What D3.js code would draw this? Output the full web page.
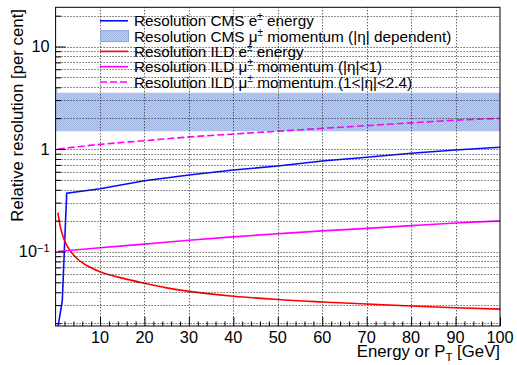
<html>
<head>
<script src="https://d3js.org/d3.v7.min.js"></script>
<style>
  body { margin: 0; background: #fff; }
  text { font-family: "Liberation Sans", Arial, Helvetica, sans-serif; fill: #000; }
</style>
</head>
<body>
<script>
// ---- data ----
// CMS e+- energy resolution
var cmsEleX = [0.5, 1.5, 2.5, 10, 20, 30, 40, 50, 60, 70, 80, 90, 100];
var cmsEleY = [0.018, 0.033, 0.37, 0.41, 0.49, 0.557, 0.624, 0.682, 0.764, 0.83, 0.908, 0.978, 1.04];

// CMS mu+- momentum band (|eta| dependent)
var cmsMuX    = [0, 0.4, 100];
var cmsMuLow  = [1.49, 1.49, 1.49];
var cmsMuHigh = [4.0, 3.54, 3.54];

// ILD e+- energy resolution
var ildEleX = [0.5, 1, 1.5, 2, 3, 4, 5, 7, 10, 15, 20, 25, 30, 40, 50, 60, 70, 80, 90, 100];
var ildEleY = [0.24, 0.18, 0.148, 0.128, 0.106, 0.093, 0.084, 0.073, 0.0635, 0.055, 0.049,
               0.0442, 0.0408, 0.0366, 0.034, 0.0322, 0.0307, 0.0294, 0.0283, 0.0274];

// ILD mu+- momentum |eta|<1
var ildMuCX = [0.5, 10, 20, 30, 40, 50, 60, 70, 80, 90, 100];
var ildMuCY = [0.1, 0.109, 0.118, 0.129, 0.139, 0.149, 0.159, 0.168, 0.179, 0.19, 0.199];

// ILD mu+- momentum 1<|eta|<2.4
var ildMuFX = [0.5, 10, 20, 30, 40, 50, 60, 70, 80, 90, 100];
var ildMuFY = [1.0, 1.11, 1.205, 1.31, 1.4, 1.49, 1.59, 1.69, 1.8, 1.91, 1.99];

var xTickLabels = [10, 20, 30, 40, 50, 60, 70, 80, 90, 100];
var yTickLabels = [0.1, 1, 10];

var legendLabels = [
  ["Resolution CMS e", "\u00b1", " energy"],
  ["Resolution CMS \u03bc", "\u00b1", " momentum (|\u03b7| dependent)"],
  ["Resolution ILD e", "\u00b1", " energy"],
  ["Resolution ILD \u03bc", "\u00b1", " momentum (|\u03b7|<1)"],
  ["Resolution ILD \u03bc", "\u00b1", " momentum (1<|\u03b7|<2.4)"]
];

// ---- layout ----
var width = 517, height = 365;
var padL = 55.6, padR = 500, padT = 7.3, padB = 326;

var svg = d3.select("body").append("svg")
  .attr("width", width)
  .attr("height", height);

var defs = svg.append("defs");
defs.append("clipPath").attr("id", "plotclip")
  .append("rect")
  .attr("x", padL).attr("y", padT)
  .attr("width", padR - padL).attr("height", padB - padT);

var pat = defs.append("pattern")
  .attr("id", "hatch")
  .attr("patternUnits", "userSpaceOnUse")
  .attr("width", 2).attr("height", 2);
pat.append("rect").attr("width", 2).attr("height", 2).attr("fill", "#bccbea");
pat.append("rect").attr("width", 1).attr("height", 1).attr("fill", "#a2b7e2");
pat.append("rect").attr("x", 1).attr("y", 1).attr("width", 1).attr("height", 1).attr("fill", "#a2b7e2");

var x = d3.scaleLinear().domain([0, 100]).range([padL, padR]);
var y = d3.scaleLog().domain([0.01876, 24.13]).range([padB, padT]);

function zip(xs, ys) {
  return xs.map(function (v, i) { return [v, ys[i]]; });
}

var plot = svg.append("g").attr("clip-path", "url(#plotclip)");

// band
var band = cmsMuX.map(function (v, i) { return { x: v, lo: cmsMuLow[i], hi: cmsMuHigh[i] }; });
plot.append("path")
  .datum(band)
  .attr("fill", "url(#hatch)")
  .attr("d", d3.area()
    .x(function (d) { return x(d.x); })
    .y0(function (d) { return y(d.lo); })
    .y1(function (d) { return y(d.hi); })
    .curve(d3.curveStepAfter));

// grid
var grid = svg.append("g");
grid.selectAll(".vg")
  .data(xTickLabels.filter(function (d) { return d < 100; }))
  .enter().append("line")
  .attr("x1", function (d) { return Math.round(x(d)) + 0.5; })
  .attr("x2", function (d) { return Math.round(x(d)) + 0.5; })
  .attr("y1", padT).attr("y2", padB)
  .attr("stroke", "#222").attr("stroke-dasharray", "1,2");
grid.selectAll(".hg")
  .data(y.ticks())
  .enter().append("line")
  .attr("x1", padL).attr("x2", padR)
  .attr("y1", function (d) { return Math.round(y(d)) + 0.5; })
  .attr("y2", function (d) { return Math.round(y(d)) + 0.5; })
  .attr("stroke", "#222").attr("stroke-dasharray", "1,2");

// curves
var line = d3.line()
  .x(function (d) { return x(d[0]); })
  .y(function (d) { return y(d[1]); });

var series = [
  { pts: zip(cmsEleX, cmsEleY), color: "#0a0aff", dash: null, curve: d3.curveLinear },
  { pts: zip(ildEleX, ildEleY), color: "#ff0000", dash: null, curve: d3.curveMonotoneX },
  { pts: zip(ildMuCX, ildMuCY), color: "#ff00ff", dash: null, curve: d3.curveMonotoneX },
  { pts: zip(ildMuFX, ildMuFY), color: "#ff00ff", dash: "7,3", curve: d3.curveMonotoneX }
];
series.forEach(function (s) {
  plot.append("path")
    .datum(s.pts)
    .attr("fill", "none")
    .attr("stroke", s.color)
    .attr("stroke-width", 1.6)
    .attr("stroke-dasharray", s.dash)
    .attr("d", line.curve(s.curve));
});

// axes ticks (inside)
var xMinor = d3.range(2, 100, 2).filter(function (d) { return d % 10 !== 0; });
var axB = svg.append("g").attr("transform", "translate(0," + padB + ")");
axB.append("g").call(d3.axisBottom(x).tickValues(xMinor).tickSize(-4.5).tickFormat(""));
axB.append("g").call(d3.axisBottom(x).tickValues(xTickLabels).tickSize(-9).tickFormat(""));

var yAll = y.ticks();
var yMinor = yAll.filter(function (d) { return yTickLabels.indexOf(d) < 0; });
var axL = svg.append("g").attr("transform", "translate(" + padL + ",0)");
axL.append("g").call(d3.axisLeft(y).tickValues(yMinor).tickSize(-5.5).tickFormat(""));
axL.append("g").call(d3.axisLeft(y).tickValues(yTickLabels).tickSize(-10).tickFormat(""));
svg.selectAll(".domain").remove();
svg.selectAll(".tick line").attr("stroke", "#000");

// frame
svg.append("rect")
  .attr("x", padL).attr("y", padT)
  .attr("width", padR - padL).attr("height", padB - padT)
  .attr("fill", "none").attr("stroke", "#000");

// tick labels
svg.selectAll(".xl")
  .data(xTickLabels)
  .enter().append("text")
  .attr("x", function (d) { return x(d); })
  .attr("y", 343.3)
  .attr("text-anchor", "middle")
  .attr("font-size", 16.3)
  .text(function (d) { return d; });

yTickLabels.forEach(function (d) {
  var t = svg.append("text")
    .attr("x", 49.5)
    .attr("y", y(d))
    .attr("dy", "0.36em")
    .attr("text-anchor", "end")
    .attr("font-size", 16.3);
  if (d < 1) {
    t.append("tspan").text("10");
    t.append("tspan").attr("font-size", 11).attr("dy", -5).text("\u22121");
  } else {
    t.text(d);
  }
});

// axis titles
var xt = svg.append("text")
  .attr("x", padR).attr("y", 357.3)
  .attr("text-anchor", "end")
  .attr("font-size", 16.8);
xt.append("tspan").text("Energy or P");
xt.append("tspan").attr("font-size", 11.5).attr("dy", 4).text("T");
xt.append("tspan").attr("dy", -4).text(" [GeV]");

svg.append("text")
  .attr("transform", "translate(22.5,9) rotate(-90)")
  .attr("text-anchor", "end")
  .attr("font-size", 16.8)
  .text("Relative resolution [per cent]");

// legend
var legend = svg.append("g");
var rowY = function (i) { return 20.8 + i * 15.3; };
var legendStyle = [
  { type: "line", color: "#0a0aff", dash: null },
  { type: "box" },
  { type: "line", color: "#ff0000", dash: null },
  { type: "line", color: "#ff00ff", dash: null },
  { type: "line", color: "#ff00ff", dash: "7,3" }
];
legendLabels.forEach(function (parts, i) {
  var cy = rowY(i);
  var st = legendStyle[i];
  if (st.type === "box") {
    legend.append("rect")
      .attr("x", 100.5).attr("y", cy - 5.5)
      .attr("width", 28).attr("height", 11)
      .attr("fill", "url(#hatch)")
      .attr("stroke", "#8ea6d8");
  } else {
    legend.append("line")
      .attr("x1", 100).attr("x2", 128)
      .attr("y1", cy).attr("y2", cy)
      .attr("stroke", st.color)
      .attr("stroke-width", 1.6)
      .attr("stroke-dasharray", st.dash);
  }
  var t = legend.append("text")
    .attr("x", 134).attr("y", cy + 5.5)
    .attr("font-size", 15.3);
  t.append("tspan").text(parts[0]);
  t.append("tspan").attr("font-size", 10).attr("dy", -6).text(parts[1]);
  t.append("tspan").attr("dy", 6).text(parts[2]);
});
</script>
</body>
</html>
